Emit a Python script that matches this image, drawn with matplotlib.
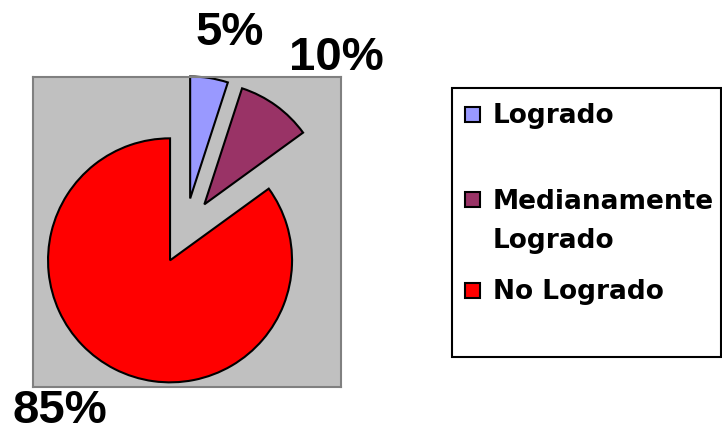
import matplotlib
matplotlib.use("Agg")
import matplotlib.pyplot as plt
from matplotlib.patches import Rectangle

# ---- data ----
categories = ["Logrado", "Medianamente Logrado", "No Logrado"]
values = [5, 10, 85]
pct_labels = ["5%", "10%", "85%"]
colors = ["#9999FF", "#993366", "#FF0000"]

W, H = 722, 434
fig = plt.figure(figsize=(W / 100, H / 100), dpi=100)
fig.patch.set_facecolor("white")

def fx(px):
    return px / W

def fy(py):
    return 1 - py / H

# plot area (gray box)
L, R, T, B = 33, 341, 77, 387
ax = fig.add_axes([fx(L), fy(B), (R - L) / W, (B - T) / H])
ax.set_facecolor("#C0C0C0")
for s in ax.spines.values():
    s.set_color("#808080")
    s.set_linewidth(1.5)

# pie geometry (pixels)
cx, cy, rad = 185, 231, 122

wedges, _ = ax.pie(values, colors=colors, startangle=90, counterclock=False,
                   explode=[0.27, 0.27, 0.27], radius=1.0, center=(0, 0),
                   wedgeprops=dict(edgecolor="black", linewidth=1.5),
                   frame=True)
for w in wedges:
    w.set_clip_on(False)
ax.set_xlim(-(cx - L) / rad, (R - cx) / rad)
ax.set_ylim(-(B - cy) / rad, (cy - T) / rad)
ax.set_aspect("auto")
ax.set_xticks([])
ax.set_yticks([])

# percent labels (baseline positions relative to pie centre, in radius units)
label_pos = [(0.369, 1.525), (1.238, 1.320), (-1.025, -1.574)]
for txt, (x, y) in zip(pct_labels, label_pos):
    ax.text(x, y, txt, ha="center", va="baseline", fontsize=34,
            fontweight="bold", family="Liberation Sans", color="black",
            clip_on=False)

# legend (drawn manually)
lx0, ly0, lx1, ly1 = 452, 88, 721, 357
fig.patches.append(Rectangle((fx(lx0), fy(ly1)), (lx1 - lx0) / W, (ly1 - ly0) / H,
                             transform=fig.transFigure, facecolor="white",
                             edgecolor="black", linewidth=1.5, zorder=1))
row_baselines = [[123], [209, 248], [299]]
label_lines = [["Logrado"], ["Medianamente", "Logrado"], ["No Logrado"]]
sq = 15
for col, bases, lines in zip(colors, row_baselines, label_lines):
    yc = bases[0] - 9
    fig.patches.append(Rectangle((fx(465), fy(yc + sq / 2)), sq / W, sq / H,
                                 transform=fig.transFigure, facecolor=col,
                                 edgecolor="black", linewidth=1.5, zorder=2))
    for base, line in zip(bases, lines):
        fig.text(fx(493), fy(base), line, ha="left", va="baseline",
                 fontsize=19, fontweight="bold", family="DejaVu Sans",
                 color="black", zorder=3)

fig.savefig("out.png", dpi=100)
